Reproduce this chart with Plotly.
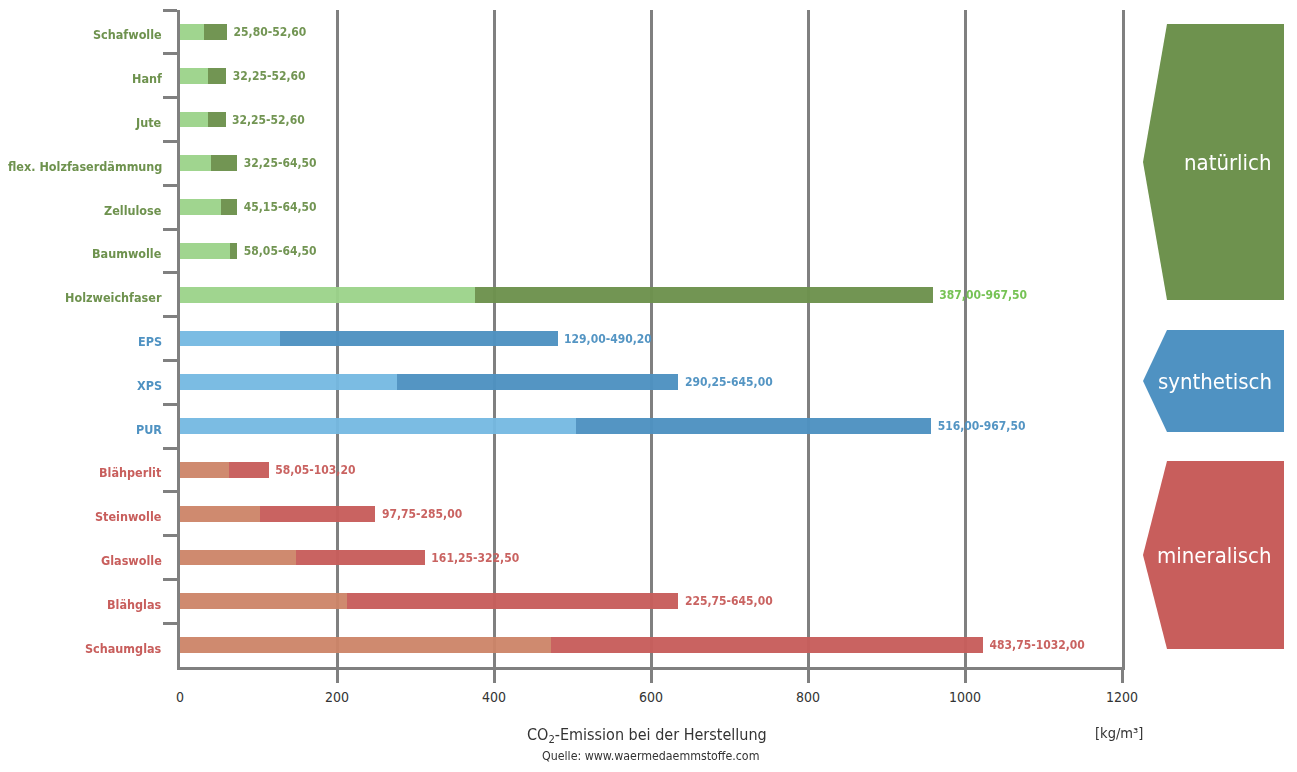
import plotly.graph_objects as go

# ---------------- data ----------------
categories = ["Schafwolle", "Hanf", "Jute", "flex. Holzfaserdämmung", "Zellulose",
              "Baumwolle", "Holzweichfaser", "EPS", "XPS", "PUR", "Blähperlit",
              "Steinwolle", "Glaswolle", "Blähglas", "Schaumglas"]
groups = ["natürlich"] * 7 + ["synthetisch"] * 3 + ["mineralisch"] * 5
low_values = [30, 36, 36, 39, 52, 64, 376, 128, 277, 504, 63, 102, 148, 213, 472]
high_values = [60, 59, 58, 73, 73, 73, 959, 481, 635, 957, 113, 249, 312, 635, 1023]
range_labels = ["25,80-52,60", "32,25-52,60", "32,25-52,60", "32,25-64,50", "45,15-64,50",
                "58,05-64,50", "387,00-967,50", "129,00-490,20", "290,25-645,00",
                "516,00-967,50", "58,05-103,20", "97,75-285,00", "161,25-322,50",
                "225,75-645,00", "483,75-1032,00"]
x_ticks = [0, 200, 400, 600, 800, 1000, 1200]
group_names = ["natürlich", "synthetisch", "mineralisch"]

# ---------------- styles ----------------
LIGHT = {"natürlich": "#9bd38a", "synthetisch": "#74b9e2", "mineralisch": "#cd8468"}
DARK = {"natürlich": "#6e924e", "synthetisch": "#4f92c2", "mineralisch": "#c85e5c"}
TEXT = {"natürlich": "#6e924e", "synthetisch": "#4f92c2", "mineralisch": "#c85e5c"}
HIGHLIGHT_TEXT = {"Holzweichfaser": "#72c150"}
GRAY = "#808080"
FONT = "DejaVu Sans Condensed, Liberation Sans Narrow, sans-serif"

W, H = 1297, 772
L, R, T, B = 180, 1122, 10, 667


def px(x):
    return (x - L) / (R - L)


def py(y):
    return (B - y) / (B - T)


light_colors = [LIGHT[g] for g in groups]
dark_colors = [DARK[g] for g in groups]
label_colors = [HIGHLIGHT_TEXT.get(c, TEXT[g]) for c, g in zip(categories, groups)]
spans = [h - l for l, h in zip(low_values, high_values)]
n = len(categories)

fig = go.Figure()
fig.add_trace(go.Bar(
    y=categories, x=low_values, orientation="h",
    marker=dict(color=light_colors, line=dict(width=0)), opacity=0.95,
    width=0.36, hoverinfo="skip", showlegend=False,
))
fig.add_trace(go.Bar(
    y=categories, x=spans, orientation="h",
    marker=dict(color=dark_colors, line=dict(width=0)), opacity=0.97,
    width=0.36, text=range_labels, textposition="outside",
    textfont=dict(family=FONT, size=12, color=label_colors),
    texttemplate="\u00a0<b>%{text}</b>", cliponaxis=False,
    hoverinfo="skip", showlegend=False,
))
# invisible trace to carry the tick-only axis
fig.add_trace(go.Scatter(x=[x_ticks[0]], y=[categories[0]], xaxis="x2",
                         mode="markers", marker=dict(opacity=0, size=1),
                         hoverinfo="skip", showlegend=False))

fig.update_layout(
    width=W, height=H,
    margin=dict(l=L, r=W - R, t=T, b=H - B),
    paper_bgcolor="white", plot_bgcolor="white",
    barmode="stack", bargap=0.64,
    font=dict(family=FONT, color="#333333"),
    xaxis=dict(range=[0, 1200], tickvals=x_ticks, ticks="outside", ticklen=15,
               tickcolor="rgba(0,0,0,0)", tickfont=dict(size=14, color="#333333"),
               showgrid=True, gridcolor=GRAY, gridwidth=3,
               showline=True, linecolor=GRAY, linewidth=3, zeroline=False,
               fixedrange=True),
    xaxis2=dict(range=[0, 1200], overlaying="x", anchor="y", side="bottom",
                tickvals=x_ticks[1:], ticks="outside", ticklen=15, tickwidth=3,
                tickcolor=GRAY, showticklabels=False, showgrid=False,
                showline=False, zeroline=False),
    yaxis=dict(type="category", categoryorder="array", categoryarray=categories,
               range=[n - 0.5, -0.5], tickson="boundaries", ticks="outside",
               ticklen=14, tickwidth=3, tickcolor=GRAY, showticklabels=False,
               showgrid=False, showline=True, mirror=True, linecolor=GRAY,
               linewidth=3, zeroline=False),
)

# category labels
for cat, g in zip(categories, groups):
    fig.add_annotation(x=0, xref="paper", y=cat, yref="y", xanchor="right",
                       xshift=-16, yshift=-3, showarrow=False,
                       text=f"<b>{cat}</b>",
                       font=dict(family=FONT, size=12.5, color=TEXT[g]))

# group arrows on the right
arrow_boxes = {"natürlich": (24, 300), "synthetisch": (330, 432), "mineralisch": (461, 649)}
for g in group_names:
    top, bot = arrow_boxes[g]
    mid = (top + bot) / 2
    path = (f"M {px(1167)} {py(top)} L {px(1284)} {py(top)} L {px(1284)} {py(bot)} "
            f"L {px(1167)} {py(bot)} L {px(1143)} {py(mid)} Z")
    fig.add_shape(type="path", path=path, xref="paper", yref="paper",
                  fillcolor=DARK[g], line=dict(width=0), layer="above")
    fig.add_annotation(x=px(1274), y=py(mid), xref="paper", yref="paper",
                       xanchor="right", yanchor="middle", showarrow=False,
                       text=g, font=dict(family=FONT, size=22, color="white"))

# axis title & source
fig.add_annotation(x=px(647), y=py(735), xref="paper", yref="paper",
                   xanchor="center", yanchor="middle", showarrow=False,
                   text="CO<sub>2</sub>-Emission bei der Herstellung",
                   font=dict(family=FONT, size=16, color="#333333"))
fig.add_annotation(x=px(1119), y=py(733), xref="paper", yref="paper",
                   xanchor="center", yanchor="middle", showarrow=False,
                   text="[kg/m³]", font=dict(family=FONT, size=14.5, color="#333333"))
fig.add_annotation(x=px(650), y=py(756), xref="paper", yref="paper",
                   xanchor="center", yanchor="middle", showarrow=False,
                   text="Quelle: www.waermedaemmstoffe.com",
                   font=dict(family=FONT, size=12.3, color="#333333"))

fig.write_html(
    "out.html",
    config={"displayModeBar": False},
    post_script="document.body.style.margin='0';document.body.style.overflow='hidden';",
)
